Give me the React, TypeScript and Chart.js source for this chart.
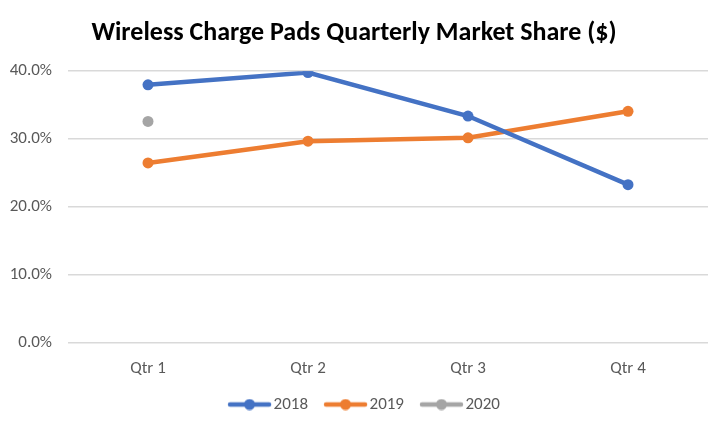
import React, { useEffect, useRef } from "react";
import { Chart, registerables } from "chart.js";

Chart.register(...registerables);

const categories = ["Qtr 1", "Qtr 2", "Qtr 3", "Qtr 4"];
const series2018 = [0.380, 0.398, 0.334, 0.233];
const series2019 = [0.265, 0.297, 0.302, 0.341];
const series2020 = [0.326, null, null, null];
const seriesNames = ["2018", "2019", "2020"];
const seriesColors = ["#4472C4", "#ED7D31", "#A5A5A5"];
const titleText = "Wireless Charge Pads Quarterly Market Share ($)";
const FONT = "Carlito, Calibri, 'Liberation Sans', sans-serif";

function legendSymbol(color: string): HTMLCanvasElement {
  const c = document.createElement("canvas");
  c.width = 60;
  c.height = 12;
  const ctx = c.getContext("2d")!;
  ctx.strokeStyle = color;
  ctx.lineWidth = 4.5;
  ctx.lineCap = "round";
  ctx.beginPath();
  ctx.moveTo(15, 6);
  ctx.lineTo(54, 6);
  ctx.stroke();
  ctx.fillStyle = color;
  ctx.beginPath();
  ctx.arc(34.5, 6, 5.5, 0, Math.PI * 2);
  ctx.fill();
  return c;
}

const legendShift = {
  id: "legendShift",
  afterLayout(chart: any) {
    const lg = chart.legend;
    if (lg) {
      lg.left += 8.5;
      lg.right += 8.5;
    }
  },
};

export default function App() {
  const ref = useRef<HTMLCanvasElement | null>(null);

  useEffect(() => {
    if (!ref.current) return;
    const symbols = seriesColors.map(legendSymbol);
    const allSeries = [series2018, series2019, series2020];
    const chart = new Chart(ref.current, {
      type: "line",
      data: {
        labels: categories,
        datasets: allSeries.map((d, i) => ({
          label: seriesNames[i],
          data: d,
          borderColor: seriesColors[i],
          backgroundColor: seriesColors[i],
          borderWidth: 4.5,
          pointRadius: 5.5,
          pointHoverRadius: 5.5,
          pointBorderWidth: 0,
          pointStyle: "circle",
          tension: 0,
          spanGaps: false,
        })),
      },
      options: {
        animation: false,
        responsive: false,
        maintainAspectRatio: false,
        layout: { padding: { left: 0, right: 10, top: 0, bottom: 8 } },
        plugins: {
          title: {
            display: true,
            text: titleText,
            color: "#000000",
            font: { family: FONT, size: 26, weight: "bold", lineHeight: 1.2 },
            padding: { top: 18, bottom: 22 },
          },
          legend: {
            position: "bottom",
            labels: {
              usePointStyle: true,
              pointStyleWidth: 40,
              boxHeight: 12,
              color: "#595959",
              font: { family: FONT, size: 17 },
              padding: 13,
              generateLabels: (ch: any) =>
                ch.data.datasets.map((ds: any, i: number) => ({
                  text: ds.label,
                  fillStyle: seriesColors[i],
                  strokeStyle: seriesColors[i],
                  lineWidth: 0,
                  pointStyle: symbols[i],
                  hidden: false,
                  datasetIndex: i,
                  fontColor: "#595959",
                })),
            },
          },
          tooltip: { enabled: false },
        },
        scales: {
          x: {
            offset: true,
            afterFit: (s: any) => {
              s.height = 40;
            },
            grid: { display: false },
            border: { display: false },
            ticks: {
              color: "#595959",
              font: { family: FONT, size: 17 },
              padding: 8,
            },
          },
          y: {
            min: 0,
            max: 0.4,
            afterFit: (s: any) => {
              s.width = 68;
            },
            grid: { color: "#D9D9D9", lineWidth: 1.5, drawTicks: false },
            border: { display: false },
            ticks: {
              stepSize: 0.1,
              color: "#595959",
              font: { family: FONT, size: 17 },
              padding: 16,
              callback: (v: any) => (Number(v) * 100).toFixed(1) + "%",
            },
          },
        },
      },
      plugins: [legendShift],
    });
    return () => chart.destroy();
  }, []);

  return (
    <div style={{ position: "fixed", left: 0, top: 0, width: 718, height: 431, background: "#fff" }}>
      <canvas ref={ref} width={718} height={431} style={{ width: 718, height: 431 }} />
    </div>
  );
}
